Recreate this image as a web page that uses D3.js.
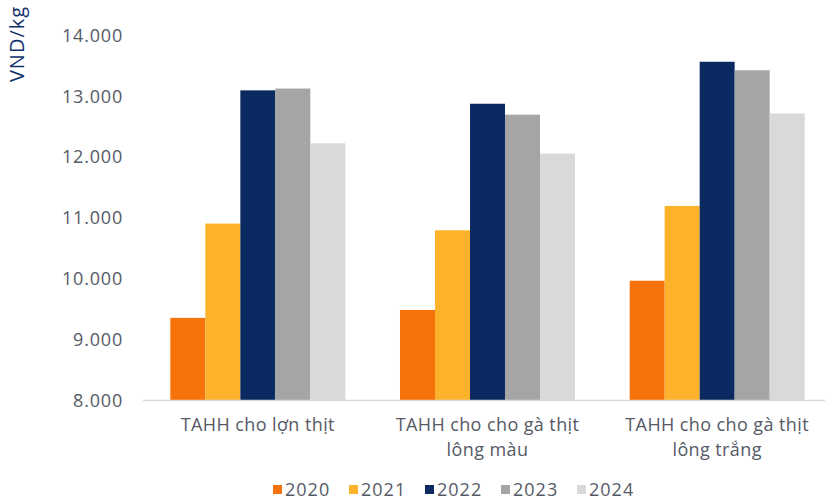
<!DOCTYPE html>
<html>
<head>
<meta charset="utf-8">
<script src="https://cdn.jsdelivr.net/npm/d3@7"></script>
<style>
  html, body { margin: 0; padding: 0; background: #ffffff; }
  svg { display: block; }
  text { font-family: "Open Sans", "Noto Sans", sans-serif; }
</style>
</head>
<body>
<svg id="chart" width="825" height="503"></svg>
<script>
// Feed price by product group and year (VND/kg)
const categories = [
  ["TAHH cho lợn thịt"],
  ["TAHH cho cho gà thịt", "lông màu"],
  ["TAHH cho cho gà thịt", "lông trắng"]
];
const years = ["2020", "2021", "2022", "2023", "2024"];
const values2020 = [9350, 9480, 9960];
const values2021 = [10900, 10790, 11190];
const values2022 = [13090, 12870, 13560];
const values2023 = [13120, 12690, 13420];
const values2024 = [12220, 12050, 12710];
const yTicks = [8000, 9000, 10000, 11000, 12000, 13000, 14000];
const yDomain = [8000, 14000];
const unitLabel = "VND/kg";

const seriesValues = [values2020, values2021, values2022, values2023, values2024];
const colors = ["#F5730A", "#FDB22B", "#0C2A62", "#A5A5A5", "#D9D9D9"];

const svg = d3.select("#chart");
const margin = { left: 143, right: -7, top: 35, bottom: 103 };
const W = 825, H = 503;

const x0 = d3.scaleBand()
  .domain(d3.range(categories.length))
  .range([margin.left, W - margin.right])
  .paddingInner(0.238)
  .paddingOuter(0.119);

const x1 = d3.scaleBand()
  .domain(years)
  .range([0, x0.bandwidth()])
  .padding(0);

const y = d3.scaleLinear()
  .domain(yDomain)
  .range([H - margin.bottom, margin.top]);

// y tick labels (no axis line, no gridlines)
const yAxis = svg.append("g")
  .attr("transform", `translate(${123},0)`)
  .call(d3.axisLeft(y).tickValues(yTicks).tickSize(0).tickPadding(0)
    .tickFormat(d => d3.format(",")(d).replace(/,/g, ".")));
yAxis.select(".domain").remove();
yAxis.selectAll("text")
  .attr("fill", "#555a66")
  .style("font-size", "18px")
  .style("letter-spacing", "0.8px")
  .attr("dy", "0.35em");

// unit label
svg.append("text")
  .attr("transform", `translate(24,44) rotate(-90)`)
  .attr("text-anchor", "middle")
  .attr("fill", "#12306B")
  .style("font-size", "20px")
  .style("letter-spacing", "1px")
  .text(unitLabel);

// bars
const groups = svg.append("g")
  .selectAll("g")
  .data(categories.map((c, i) => i))
  .join("g")
  .attr("transform", i => `translate(${x0(i)},0)`);

groups.selectAll("rect")
  .data(i => years.map((yr, k) => ({ yr, k, v: seriesValues[k][i] })))
  .join("rect")
  .attr("x", d => x1(d.yr))
  .attr("width", x1.bandwidth())
  .attr("y", d => y(d.v))
  .attr("height", d => y(yDomain[0]) - y(d.v))
  .attr("fill", d => colors[d.k]);

// baseline
svg.append("line")
  .attr("x1", margin.left)
  .attr("x2", W)
  .attr("y1", y(yDomain[0]) + 0.5)
  .attr("y2", y(yDomain[0]) + 0.5)
  .attr("stroke", "#D9D9D9")
  .attr("stroke-width", 1.5);

// category labels
const catLabels = svg.append("g")
  .selectAll("text")
  .data(categories)
  .join("text")
  .attr("x", (d, i) => x0(i) + x0.bandwidth() / 2)
  .attr("y", 431)
  .attr("text-anchor", "middle")
  .attr("fill", "#555a66")
  .style("font-size", "18px")
  .style("letter-spacing", "0.4px");
catLabels.selectAll("tspan")
  .data(d => d)
  .join("tspan")
  .attr("x", function () { return d3.select(this.parentNode).attr("x"); })
  .attr("dy", (d, j) => j === 0 ? 0 : 25)
  .text(d => d);

// legend
const legendX = d3.scalePoint().domain(years).range([273, 577]);
const legend = svg.append("g")
  .selectAll("g")
  .data(years)
  .join("g")
  .attr("transform", d => `translate(${legendX(d)},490)`);
legend.append("rect")
  .attr("x", 0).attr("y", -5)
  .attr("width", 9).attr("height", 9)
  .attr("fill", (d, i) => colors[i]);
legend.append("text")
  .attr("x", 12)
  .attr("y", 0)
  .attr("dy", "0.35em")
  .attr("fill", "#555a66")
  .style("font-size", "18px")
  .style("letter-spacing", "1px")
  .text(d => d);
</script>
</body>
</html>
